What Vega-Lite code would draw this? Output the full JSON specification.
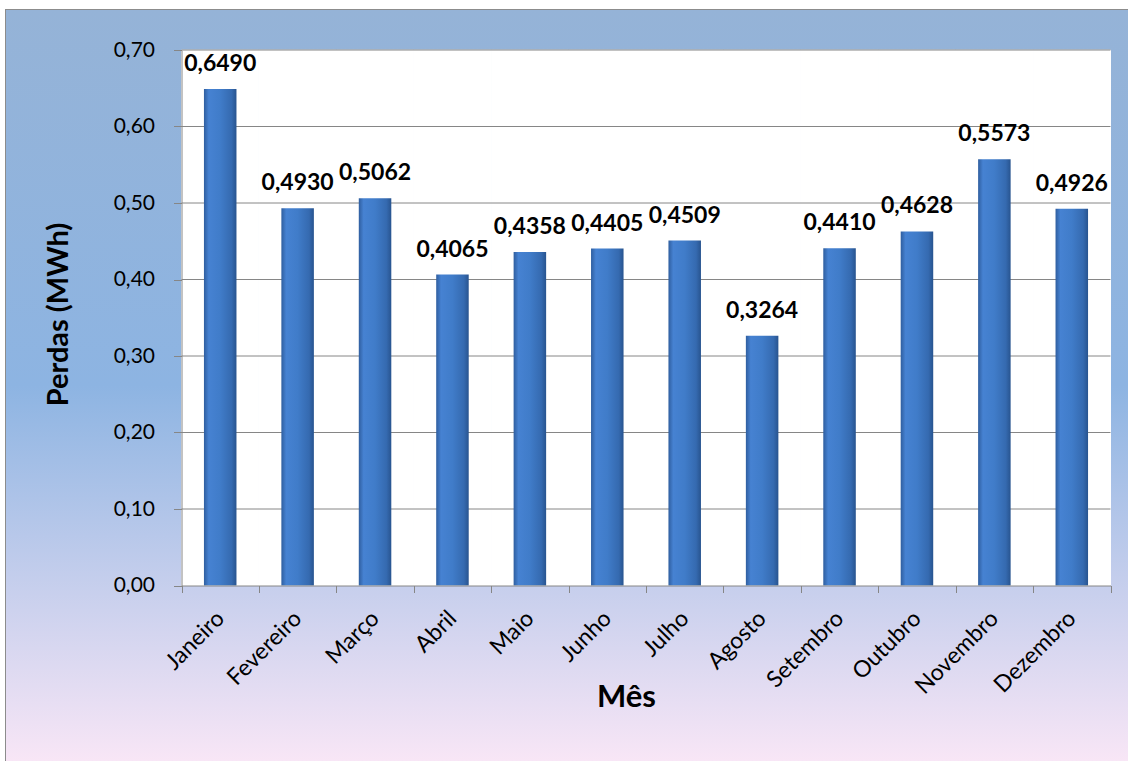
{
  "$schema": "https://vega.github.io/schema/vega-lite/v6.json",
  "width": 1122,
  "height": 751,
  "autosize": {"type": "none"},
  "padding": {"left": 6, "top": 10, "right": 0, "bottom": 0},
  "background": "white",
  "config": {
    "locale": {"number": {"decimal": ",", "thousands": ".", "grouping": [3], "currency": ["R$", ""]}},
    "view": {"stroke": "#8C8C8C", "strokeWidth": 2},
    "font": "Lato"
  },
  "datasets": {
    "perdas": [
      {"mes": "Janeiro", "valor": 0.6490},
      {"mes": "Fevereiro", "valor": 0.4930},
      {"mes": "Março", "valor": 0.5062},
      {"mes": "Abril", "valor": 0.4065},
      {"mes": "Maio", "valor": 0.4358},
      {"mes": "Junho", "valor": 0.4405},
      {"mes": "Julho", "valor": 0.4509},
      {"mes": "Agosto", "valor": 0.3264},
      {"mes": "Setembro", "valor": 0.4410},
      {"mes": "Outubro", "valor": 0.4628},
      {"mes": "Novembro", "valor": 0.5573},
      {"mes": "Dezembro", "valor": 0.4926}
    ],
    "grade": [{"v": 0.1}, {"v": 0.2}, {"v": 0.3}, {"v": 0.4}, {"v": 0.5}, {"v": 0.6}, {"v": 0.7}]
  },
  "layer": [
    {
      "data": {"values": [{}]},
      "mark": {
        "type": "rect",
        "fill": {
          "gradient": "linear", "x1": 0, "y1": 0, "x2": 0, "y2": 1,
          "stops": [
            {"offset": 0, "color": "#95B3D7"},
            {"offset": 0.5, "color": "#8DB4E2"},
            {"offset": 1, "color": "#F8E6F6"}
          ]
        }
      },
      "encoding": {}
    },
    {
      "data": {"name": "perdas"},
      "mark": {"type": "rect", "fill": "white", "stroke": "white", "strokeWidth": 1},
      "encoding": {
        "x": {"field": "mes", "type": "nominal", "sort": null,
              "scale": {"domain": ["Janeiro","Fevereiro","Março","Abril","Maio","Junho","Julho","Agosto","Setembro","Outubro","Novembro","Dezembro"], "range": [175.5, 1104.5], "paddingInner": 0, "paddingOuter": 0}},
        "y": {"datum": 0, "type": "quantitative", "scale": {"domain": [0, 0.7], "range": [575.5, 40], "nice": false}},
        "y2": {"datum": 0.7}
      }
    },
    {
      "data": {"name": "grade"},
      "mark": {"type": "rule", "color": "#868686", "strokeWidth": 1},
      "encoding": {
        "x": {"datum": "Janeiro", "type": "nominal", "bandPosition": 0},
        "x2": {"datum": "Dezembro", "bandPosition": 1},
        "y": {"field": "v", "type": "quantitative"}
      }
    },
    {
      "data": {"name": "perdas"},
      "mark": {
        "type": "bar",
        "width": {"band": 0.42},
        "fill": {
          "gradient": "linear", "x1": 0, "y1": 0, "x2": 1, "y2": 0,
          "stops": [
            {"offset": 0, "color": "#2F5E9F"},
            {"offset": 0.15, "color": "#4682D2"},
            {"offset": 0.5, "color": "#407CC9"},
            {"offset": 0.85, "color": "#356AB0"},
            {"offset": 1, "color": "#28548F"}
          ]
        }
      },
      "encoding": {
        "x": {
          "field": "mes", "type": "nominal", "sort": null,
          "scale": {"domain": ["Janeiro","Fevereiro","Março","Abril","Maio","Junho","Julho","Agosto","Setembro","Outubro","Novembro","Dezembro"], "range": [175.5, 1104.5], "paddingInner": 0, "paddingOuter": 0},
          "axis": {
            "title": "Mês", "titleFontSize": 31, "titleFontWeight": "bold", "titleColor": "black",
            "titleX": 620, "titleY": 111.5, "titleBaseline": "middle", "titleAlign": "center",
            "labelAngle": -45, "labelAlign": "right", "labelBaseline": "middle", "labelPadding": 22,
            "labelFontSize": 23, "labelColor": "black", "labelOverlap": false, "labelLimit": 0,
            "tickBand": "extent", "tickSize": 7, "tickColor": "#868686", "domainColor": "#868686",
            "offset": -175.5, "zindex": 1, "grid": false
          }
        },
        "y": {
          "field": "valor", "type": "quantitative",
          "scale": {"domain": [0, 0.7], "range": [575.5, 40], "nice": false},
          "axis": {
            "title": "Perdas (MWh)", "titleFontSize": 29, "titleFontWeight": "bold", "titleColor": "black",
            "titleX": -123, "titleY": 304, "titleAngle": -90, "titleBaseline": "middle", "titleAlign": "center",
            "values": [0, 0.1, 0.2, 0.3, 0.4, 0.5, 0.6, 0.7], "format": ".2f",
            "labelFontSize": 21, "labelColor": "black", "labelPadding": 19,
            "tickSize": 8, "tickColor": "#868686", "domainColor": "#868686",
            "offset": -175.5, "zindex": 1, "grid": false
          }
        }
      }
    },
    {
      "data": {"name": "perdas"},
      "mark": {"type": "text", "fontWeight": "bold", "fontSize": 23, "baseline": "alphabetic", "dy": -18, "color": "black"},
      "encoding": {
        "x": {"field": "mes", "type": "nominal", "sort": null},
        "y": {"field": "valor", "type": "quantitative"},
        "text": {"field": "valor", "type": "quantitative", "format": ".4f"}
      }
    }
  ]
}
